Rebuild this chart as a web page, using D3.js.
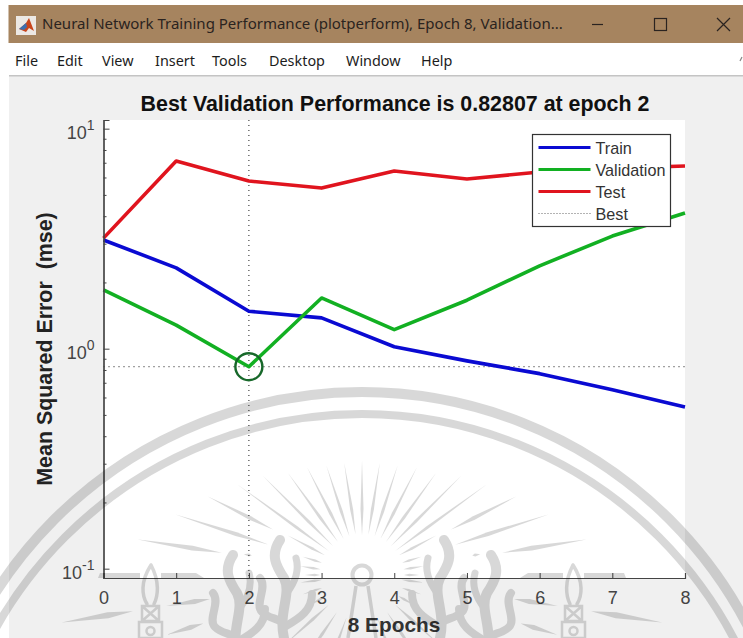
<!DOCTYPE html>
<html>
<head>
<meta charset="utf-8">
<script src="https://cdn.jsdelivr.net/npm/d3@7"></script>
<style>
    html, body {margin: 0; padding: 0; background: #fff; overflow: hidden;}
    svg {display: block;}
    text {font-family: "Liberation Sans", Arial, sans-serif;}
    .win text {font-family: "Noto Sans", sans-serif;}
</style>
</head>
<body>
<svg id="chart" width="743" height="638"></svg>
<script>
const windowTitle = "Neural Network Training Performance (plotperform), Epoch 8, Validation...";
const menuItems = ["File", "Edit", "View", "Insert", "Tools", "Desktop", "Window", "Help"];
const chartTitle = "Best Validation Performance is 0.82807 at epoch 2";
const xLabel = "8 Epochs";
const yLabel = "Mean Squared Error  (mse)";

const epochs = [0, 1, 2, 3, 4, 5, 6, 7, 8];
const train = [3.12, 2.33, 1.48, 1.38, 1.02, 0.88, 0.77, 0.65, 0.543];
const validation = [1.85, 1.28, 0.82807, 1.70, 1.22, 1.66, 2.38, 3.25, 4.14];
const test = [3.18, 7.13, 5.78, 5.37, 6.42, 5.91, 6.35, 6.60, 6.77];
const bestEpoch = 2;
const bestValue = 0.82807;
const legendNames = ["Train", "Validation", "Test", "Best"];
const yMajor = [0.1, 1, 10];
const yExponents = ["-1", "0", "1"];
const yMinor = [0.2, 0.3, 0.4, 0.5, 0.6, 0.7, 0.8, 0.9, 2, 3, 4, 5, 6, 7, 8, 9];

const svg = d3.select("#chart");

// window frame
const win = svg.append("g").attr("class", "win");
win.append("rect").attr("x", 8.5).attr("y", 5).attr("width", 735).attr("height", 38).attr("fill", "#a6845f");
win.append("rect").attr("x", 9).attr("y", 76).attr("width", 734).attr("height", 562).attr("fill", "#f0f0f0");
win.append("rect").attr("x", 9).attr("y", 75).attr("width", 734).attr("height", 1.5).attr("fill", "#c4c4c4");

// matlab icon
win.append("rect").attr("x", 16).attr("y", 16).attr("width", 20).attr("height", 19).attr("fill", "#ece8e4");
win.append("path").attr("d", "M19 29 L26 23 L29 18 L34 31 L29 28 L26 32 Z").attr("fill", "#c8451c");
win.append("path").attr("d", "M19 29 L26 23 L27 27 L24 30 Z").attr("fill", "#3b6fb0");

win.append("text").attr("x", 42).attr("y", 29).attr("font-size", 15).attr("fill", "#2a2320").text(windowTitle);
win.append("path").attr("d", "M592 24.5 H603").attr("stroke", "#2a2320").attr("stroke-width", 1.2);
win.append("rect").attr("x", 654.5).attr("y", 18.5).attr("width", 12).attr("height", 12)
    .attr("fill", "none").attr("stroke", "#2a2320").attr("stroke-width", 1.2);
win.append("path").attr("d", "M717 18 L730 31 M730 18 L717 31").attr("stroke", "#2a2320").attr("stroke-width", 1.2);

const menuX = [15, 57, 102, 155, 212, 269, 346, 421];
win.selectAll(".menu").data(menuItems).enter().append("text")
    .attr("class", "menu")
    .attr("x", (d, i) => menuX[i])
    .attr("y", 66)
    .attr("font-size", 14.4)
    .attr("fill", "#1c1c1c")
    .text(d => d);
win.append("path").attr("d", "M740 61 L742 57").attr("stroke", "#888").attr("stroke-width", 1.2);

// plot area
const margin = {top: 120, right: 58, bottom: 60, left: 103.5};
const width = 743 - margin.left - margin.right;
const height = 638 - margin.top - margin.bottom;

const xScale = d3.scaleLinear().domain([0, 8]).range([0, width]);
const yScale = d3.scaleLog().domain([0.0907, 10.95]).range([height, 0]);

const chart = svg.append("g").attr("transform", `translate(${margin.left}, ${margin.top})`);

chart.append("rect").attr("width", width).attr("height", height).attr("fill", "#fff");

const line = d3.line().x((d, i) => xScale(epochs[i])).y(d => yScale(d));

// best guides
chart.append("line")
    .attr("x1", xScale(bestEpoch)).attr("x2", xScale(bestEpoch))
    .attr("y1", 0).attr("y2", height)
    .attr("stroke", "#444").attr("stroke-width", 1.2).attr("stroke-dasharray", "1 4");
chart.append("line")
    .attr("x1", 0).attr("x2", width)
    .attr("y1", yScale(bestValue)).attr("y2", yScale(bestValue))
    .attr("stroke", "#444").attr("stroke-width", 1.2).attr("stroke-dasharray", "1 4");

const seriesList = [
    {name: "Train", values: train, color: "#0a0ad2"},
    {name: "Validation", values: validation, color: "#12b022"},
    {name: "Test", values: test, color: "#e0141e"}
];

for (const s of seriesList) {
    chart.append("path")
        .attr("fill", "none")
        .attr("stroke", s.color)
        .attr("stroke-width", 3.6)
        .attr("stroke-linejoin", "round")
        .attr("d", line(s.values));
}

chart.append("circle")
    .attr("cx", xScale(bestEpoch))
    .attr("cy", yScale(bestValue))
    .attr("r", 13.5)
    .attr("fill", "none")
    .attr("stroke", "#17682a")
    .attr("stroke-width", 2.4);

// axes
const xAxis = d3.axisBottom(xScale).tickValues(epochs).tickSize(-5).tickPadding(13).tickFormat(d3.format("d"));
const gx = chart.append("g").attr("transform", `translate(0, ${height})`).call(xAxis);
gx.selectAll(".tick text").attr("font-size", 18).attr("fill", "#444").attr("font-family", "Liberation Sans");

const yAxisMinor = d3.axisLeft(yScale).tickValues(yMinor).tickSize(-3).tickFormat("");
const gyMinor = chart.append("g").call(yAxisMinor);

const yAxis = d3.axisLeft(yScale).tickValues(yMajor).tickSize(-6).tickFormat("");
const gy = chart.append("g").call(yAxis);

for (const g of [gx, gy, gyMinor]) {
    g.select(".domain").attr("stroke", "#444").attr("stroke-width", 1.2);
    g.selectAll(".tick line").attr("stroke", "#444");
}

yMajor.forEach((v, i) => {
    const t = chart.append("text")
        .attr("x", -9)
        .attr("y", yScale(v) + 10)
        .attr("text-anchor", "end")
        .attr("fill", "#444")
        .attr("font-size", 18)
        .text("10");
    t.append("tspan").attr("dy", -9).attr("font-size", 14).text(yExponents[i]);
});

// titles
svg.append("text")
    .attr("x", 395).attr("y", 111)
    .attr("text-anchor", "middle")
    .attr("font-weight", "bold").attr("fill", "#111")
    .style("font-size", "21.4px")
    .text(chartTitle);
svg.append("text")
    .attr("x", 394).attr("y", 632)
    .attr("text-anchor", "middle")
    .attr("font-weight", "bold").attr("fill", "#333")
    .style("font-size", "20.8px")
    .text(xLabel);
svg.append("text")
    .attr("transform", "translate(52, 349) rotate(-90)")
    .attr("text-anchor", "middle")
    .attr("font-weight", "bold").attr("fill", "#222")
    .style("font-size", "21.4px")
    .style("white-space", "pre")
    .text(yLabel);

// legend
const legend = svg.append("g").attr("transform", "translate(532.5, 134.5)");
legend.append("rect").attr("width", 138).attr("height", 92)
    .attr("fill", "#fff").attr("stroke", "#333").attr("stroke-width", 1.2);
const legendItem = legend.selectAll(".legend").data(legendNames).enter().append("g")
    .attr("class", "legend")
    .attr("transform", (d, i) => `translate(0, ${13 + i * 22})`);
legendItem.append("line")
    .attr("x1", 6).attr("x2", 58)
    .attr("stroke", (d, i) => i < 3 ? seriesList[i].color : "#666")
    .attr("stroke-width", (d, i) => i < 3 ? 3.2 : 1)
    .attr("stroke-dasharray", (d, i) => i < 3 ? null : "1 2");
legendItem.append("text")
    .attr("x", 63).attr("y", 1)
    .attr("dy", ".35em")
    .attr("font-size", 16.2).attr("fill", "#333")
    .text(d => d);

// seal watermark printed over the page
const mark = svg.append("g").attr("opacity", 0.15);
const cx = 362, cy = 575;
mark.append("circle").attr("cx", cx).attr("cy", 827).attr("r", 435)
    .attr("fill", "none").attr("stroke", "#000").attr("stroke-width", 10);
mark.append("circle").attr("cx", cx).attr("cy", 834).attr("r", 420)
    .attr("fill", "none").attr("stroke", "#000").attr("stroke-width", 8);

// spindle shaped rays, pointed at both ends, mirrored left and right
const ray = (deg, r0, r1, w) => {
    const a = deg * Math.PI / 180, c = Math.cos(a), s = Math.sin(a);
    const rm = r0 + (r1 - r0) * 0.35;
    const nx = s * w / 2, ny = c * w / 2;
    return `M${r0 * c} ${-r0 * s} L${rm * c - nx} ${-rm * s - ny} L${r1 * c} ${-r1 * s} L${rm * c + nx} ${-rm * s + ny} Z`;
};
const rayGroup = mark.append("g").attr("transform", `translate(${cx}, ${cy})`);
const rays = [
    [90, 40, 114, 3], [81, 41, 113, 3], [72, 41, 115, 3], [63, 41, 121, 3], [54, 41, 126, 3],
    [45, 41, 140, 3], [36, 41, 154, 3], [27, 100, 173, 4], [18, 98, 196, 4], [9, 142, 227, 5],
    [28, 42, 84, 2.5], [17, 42, 62, 2.5], [8, 42, 62, 2.5], [0, 42, 57, 2.5], [10, 112, 120, 3],
    [-9, 154, 198, 5], [-9, 232, 304, 6], [-17, 166, 204, 5],
    [-7, 40, 62, 2.5], [-18, 42, 62, 2.5], [-30, 42, 60, 2.5], [-42, 45, 105, 3], [-56, 45, 120, 3], [-70, 45, 120, 3]
];
for (const [deg, r0, r1, w] of rays) {
    rayGroup.append("path").attr("d", ray(deg, r0, r1, w));
    if (deg !== 90) rayGroup.append("path").attr("d", ray(180 - deg, r0, r1, w));
}

// thin horizontal wedges sitting on the x axis
for (const flip of [1, -1]) {
    mark.append("path")
        .attr("transform", `translate(${cx}, 0) scale(${flip}, 1)`)
        .attr("d", "M-264 578 L-262 573 L-222 573 L-222 578 Z M-201 578 L-201 573 L-166 573 L-158 578 Z");
}

// sun ring and stem
mark.append("circle").attr("cx", cx).attr("cy", cy).attr("r", 9.5)
    .attr("fill", "none").attr("stroke", "#000").attr("stroke-width", 4);
mark.append("path").attr("d", `M${cx - 6} 586 L${cx - 14} 638 M${cx + 6} 586 L${cx + 14} 638`)
    .attr("fill", "none").attr("stroke", "#000").attr("stroke-width", 3.5);

// flames and towers, mirrored around the sun
const flame = (g) => {
    g.append("path").attr("stroke-width", 10)
        .attr("d", "M-82 540 C-92 555 -86 566 -78 578 C-70 594 -84 612 -78 638");
    g.append("path").attr("stroke-width", 7)
        .attr("d", "M-66 558 C-62 572 -68 584 -76 594");
    g.append("path").attr("stroke-width", 8)
        .attr("d", "M-102 578 C-94 588 -108 604 -100 612 C-94 618 -86 618 -80 622");
    g.append("path").attr("stroke-width", 8)
        .attr("d", "M-50 594 C-50 610 -62 618 -76 626");
};
for (const flip of [1, -1]) {
    const f = mark.append("g")
        .attr("transform", `translate(${cx}, 0) scale(${flip}, 1)`)
        .attr("fill", "none").attr("stroke", "#000").attr("stroke-linecap", "round");
    flame(f);
    flame(f.append("g").attr("transform", "translate(-47, 15)"));
    // tower
    f.append("path").attr("stroke-width", 3.5)
        .attr("d", "M-211 565 C-222 582 -220 596 -215 604 M-211 565 C-202 582 -204 596 -208 604");
    f.append("path").attr("stroke-width", 2.5)
        .attr("d", "M-220 606 H-203 V621 H-220 Z M-220 606 L-203 621 M-203 606 L-220 621 M-223 622 H-200 V638 H-223 Z");
    f.append("circle").attr("cx", -211.5).attr("cy", 631).attr("r", 4).attr("stroke-width", 2.5);
}
</script>
</body>
</html>
